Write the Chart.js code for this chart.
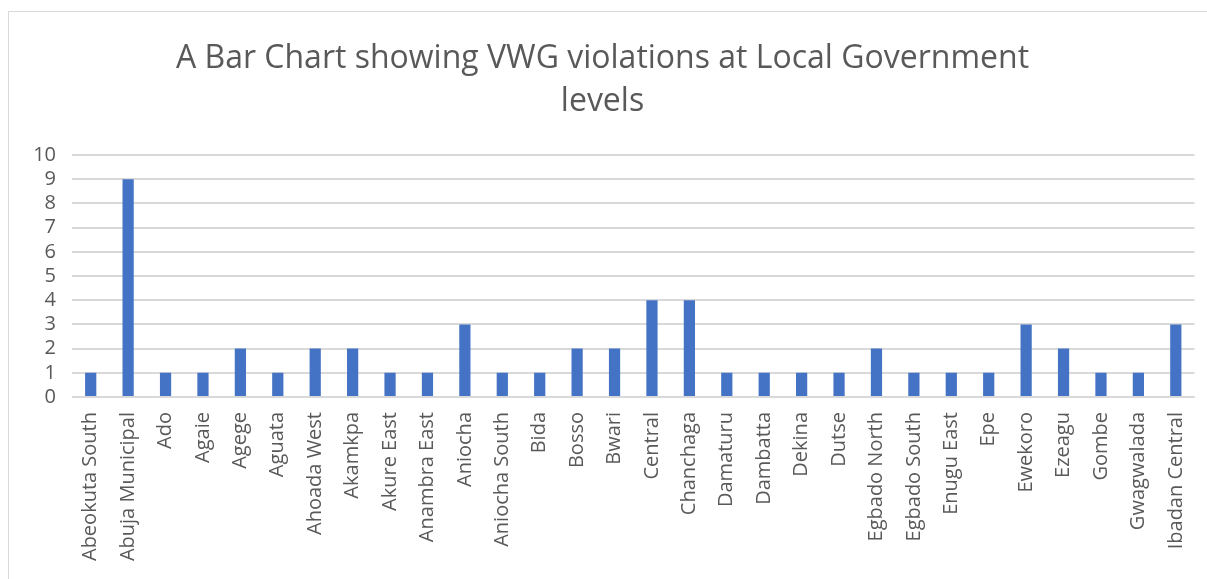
<!DOCTYPE html>
<html>
<head>
<meta charset="utf-8">
<script src="https://cdn.jsdelivr.net/npm/chart.js@4/dist/chart.umd.min.js"></script>
<style>
  html, body { margin: 0; padding: 0; background: #fff; }
  #wrap { position: relative; width: 1207px; height: 579px; }
  #frame { position: absolute; left: 8px; top: 11px; right: 0; bottom: 0;
           border-left: 1px solid #d9d9d9; border-top: 1px solid #d9d9d9; }
  canvas { position: absolute; left: 0; top: 0; }
</style>
</head>
<body>
<div id="wrap">
  <div id="frame"></div>
  <canvas id="chart" width="1207" height="579"></canvas>
</div>
<script>
// local government areas
const areas = [
  'Abeokuta South', 'Abuja Municipal', 'Ado', 'Agaie', 'Agege', 'Aguata',
  'Ahoada West', 'Akamkpa', 'Akure East', 'Anambra East', 'Aniocha',
  'Aniocha South', 'Bida', 'Bosso', 'Bwari', 'Central', 'Chanchaga',
  'Damaturu', 'Dambatta', 'Dekina', 'Dutse', 'Egbado North', 'Egbado South',
  'Enugu East', 'Epe', 'Ewekoro', 'Ezeagu', 'Gombe', 'Gwagwalada', 'Ibadan Central'
];
// number of violations
const violations = [
  1, 9, 1, 1, 2, 1,
  2, 2, 1, 1, 3,
  1, 1, 2, 2, 4, 4,
  1, 1, 1, 1, 2, 1,
  1, 1, 3, 2, 1, 1, 3
];
const yMin = 0, yMax = 10, yStep = 1;
const titleLines = ['A Bar Chart showing VWG violations at Local Government', 'levels'];

const ctx = document.getElementById('chart').getContext('2d');
new Chart(ctx, {
  type: 'bar',
  data: {
    labels: areas,
    datasets: [{
      label: 'Violations',
      data: violations,
      backgroundColor: '#4472C4',
      borderWidth: 0,
      categoryPercentage: 0.3,
      barPercentage: 1
    }]
  },
  options: {
    responsive: false,
    animation: false,
    layout: { padding: { left: 10, right: 12, top: 0, bottom: 2 } },
    plugins: {
      legend: { display: false },
      tooltip: { enabled: false },
      title: {
        display: true,
        text: titleLines,
        color: '#595959',
        font: { family: 'Open Sans', size: 32, weight: '400', lineHeight: 1.36 },
        padding: { top: 37, bottom: 31 }
      }
    },
    scales: {
      x: {
        grid: { display: false },
        border: { display: true, color: '#d9d9d9', width: 1 },
        ticks: {
          color: '#595959',
          font: { family: 'Open Sans', size: 20 },
          minRotation: 90,
          maxRotation: 90,
          autoSkip: false,
          padding: 7
        },
        afterFit: (axis) => { axis.height = 180; }
      },
      y: {
        min: yMin,
        max: yMax,
        grid: { color: '#d9d9d9', lineWidth: 2, drawTicks: false },
        border: { display: false },
        ticks: {
          stepSize: yStep,
          autoSkip: false,
          color: '#595959',
          font: { family: 'Open Sans', size: 20 },
          padding: 16
        },
        afterFit: (axis) => { axis.width = 62; }
      }
    }
  }
});
</script>
</body>
</html>
